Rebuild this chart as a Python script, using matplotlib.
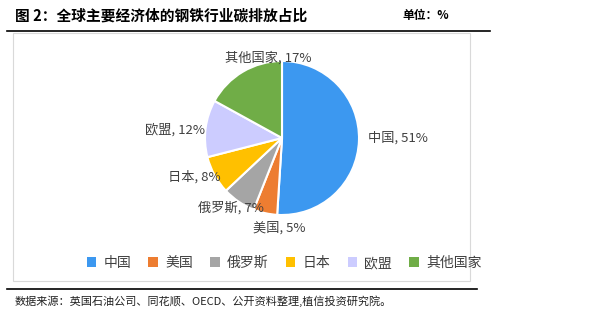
import matplotlib.pyplot as plt
from matplotlib.patches import Rectangle
from matplotlib.lines import Line2D

plt.rcParams["font.family"] = ["Noto Sans CJK SC", "DejaVu Sans"]

TITLE = "图 2：全球主要经济体的钢铁行业碳排放占比"
UNIT = "单位：%"
SOURCE = "数据来源：英国石油公司、同花顺、OECD、公开资料整理,植信投资研究院。"

regions = ["中国", "美国", "俄罗斯", "日本", "欧盟", "其他国家"]
shares = [51, 5, 7, 8, 12, 17]
colors = ["#3C98F0", "#ED7D31", "#A5A5A5", "#FFC000", "#CCCCFF", "#70AD47"]

# label anchors around the pie (data units, pie radius = 0.77)
label_xy = [(0.86, 0.0), (-0.03, -0.90), (-0.51, -0.70), (-0.88, -0.39),
            (-1.07, 0.08), (-0.14, 0.80)]
label_ha = ["left", "center", "center", "center", "center", "center"]

W, H = 612, 330
fig = plt.figure(figsize=(W / 100, H / 100), dpi=100)


def px(x, y):
    return x / W, 1 - y / H


# frame around the chart area
fig.patches.append(Rectangle(px(13, 281), (470 - 13) / W, (281 - 33) / H,
                             transform=fig.transFigure, fill=False,
                             edgecolor="#D9D9D9", linewidth=0.8))
fig.lines.append(Line2D([7 / W, 490 / W], [1 - 31 / H] * 2,
                        transform=fig.transFigure, color="black", linewidth=1.2))
fig.lines.append(Line2D([7 / W, 477 / W], [1 - 289 / H] * 2,
                        transform=fig.transFigure, color="black", linewidth=1.2))

fig.text(*px(15, 16), TITLE, fontsize=10.6, fontweight="bold", va="center", ha="left")
fig.text(*px(402, 16), UNIT, fontsize=8.5, fontweight="bold", va="center", ha="left")
fig.text(*px(15, 301), SOURCE, fontsize=8, va="center", ha="left", color="#222222")

# pie axes: 100px per data unit, centred on (282, 138)
cx, cy, half = 282, 138, 100
ax = fig.add_axes([(cx - half) / W, 1 - (cy + half) / H, 2 * half / W, 2 * half / H])
wedges, _ = ax.pie(shares, colors=colors, startangle=90, counterclock=False,
                   radius=0.77, wedgeprops=dict(edgecolor="white", linewidth=1.5))
ax.set_xlim(-1, 1)
ax.set_ylim(-1, 1)
ax.set_aspect("equal")
ax.axis("off")

for name, val, (x, y), ha in zip(regions, shares, label_xy, label_ha):
    ax.text(x, y, f"{name}, {val}%", ha=ha, va="center", fontsize=9.5,
            color="#404040", clip_on=False)

handles = [Rectangle((0, 0), 1, 1, facecolor=c, edgecolor="none") for c in colors]
fig.legend(handles, regions, loc="center", bbox_to_anchor=(284 / W, 1 - 263 / H),
           ncol=6, frameon=False, fontsize=10, handlelength=0.7, handleheight=0.7,
           handletextpad=0.5, columnspacing=1.25, labelcolor="#404040")

fig.savefig("out.png", dpi=100)
